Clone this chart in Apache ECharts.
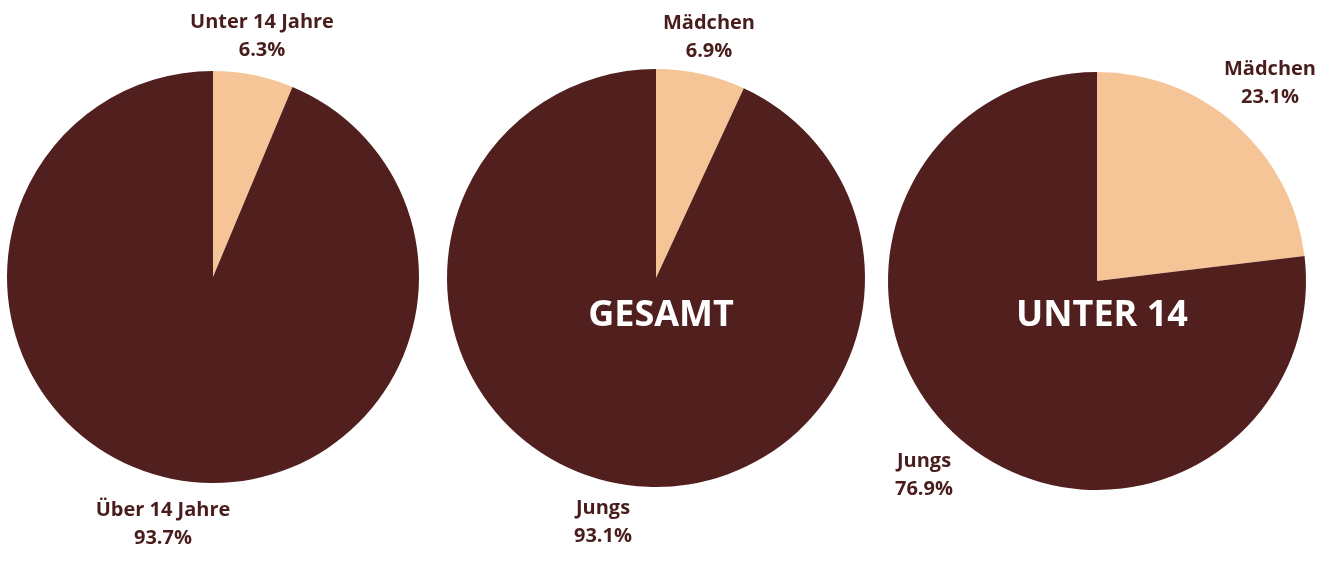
<!DOCTYPE html>
<html>
<head>
<meta charset="utf-8">
<script src="https://cdn.jsdelivr.net/npm/echarts@6/dist/echarts.min.js"></script>
<style>
  html, body { margin: 0; padding: 0; background: #fff; }
  #chart { width: 1330px; height: 580px; }
</style>
</head>
<body>
<div id="chart"></div>
<script>
// Anteile in Prozent, je Kreis: [helles Segment, dunkles Segment]
const altersNamen = ['Unter 14 Jahre', 'Über 14 Jahre']
const altersWerte = [6.3, 93.7]
const gesamtNamen = ['Mädchen', 'Jungs']
const gesamtWerte = [6.9, 93.1]
const unter14Namen = ['Mädchen', 'Jungs']
const unter14Werte = [23.1, 76.9]
const mittenTexte = ['', 'GESAMT', 'UNTER 14']

const HELL = '#F5C597'
const DUNKEL = '#521F1F'
const TEXT = '#4A1D1D'
const FONT = '"Open Sans", "Noto Sans", sans-serif'

// Kreismitten, Radien und Label-Plätze (Pixel)
const centers = [[213, 277], [656, 278], [1097, 281]]
const radii = [206, 209, 209]
const labelPos = [
  [[262, 36], [163, 524]],
  [[709, 37], [603, 522]],
  [[1270, 83], [924, 475]],
]

function makePie(i, names, values) {
  return {
    type: 'pie',
    center: centers[i],
    radius: radii[i],
    startAngle: 90,
    clockwise: true,
    silent: true,
    animation: false,
    label: {
      show: true,
      position: 'inside',
      overflow: 'none',
      formatter: p => p.name + '\n' + p.value.toFixed(1) + '%',
      color: TEXT,
      fontFamily: FONT,
      fontWeight: 'bold',
      fontSize: 20,
      lineHeight: 28,
      align: 'center',
    },
    labelLine: { show: false },
    labelLayout: p => ({
      x: labelPos[i][p.dataIndex][0],
      y: labelPos[i][p.dataIndex][1],
      align: 'center',
      verticalAlign: 'middle',
    }),
    itemStyle: { borderWidth: 0 },
    data: names.map((n, k) => ({
      name: n,
      value: values[k],
      itemStyle: { color: k === 0 ? HELL : DUNKEL },
    })),
  }
}

const chart = echarts.init(document.getElementById('chart'))
chart.setOption({
  backgroundColor: '#fff',
  title: mittenTexte.map((t, i) => ({
    text: t,
    left: centers[i][0],
    top: 311,
    textAlign: 'center',
    textVerticalAlign: 'middle',
    textStyle: {
      color: '#fff', fontFamily: FONT, fontWeight: 'bold', fontSize: 36,
    },
  })).filter(t => t.text),
  series: [
    makePie(0, altersNamen, altersWerte),
    makePie(1, gesamtNamen, gesamtWerte),
    makePie(2, unter14Namen, unter14Werte),
  ],
})
</script>
</body>
</html>
